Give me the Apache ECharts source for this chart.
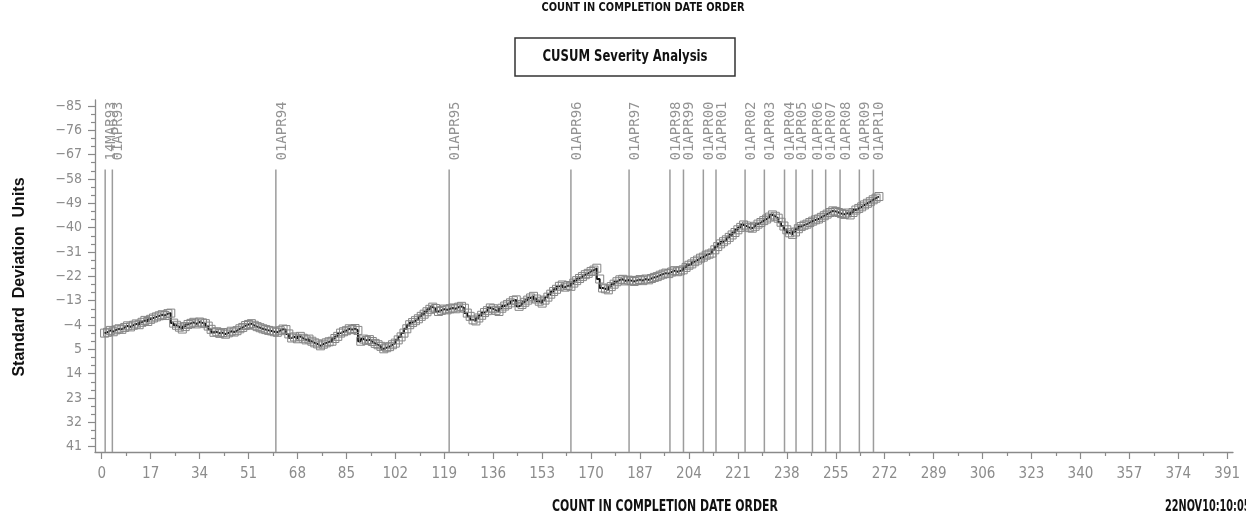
<!DOCTYPE html>
<html>
<head>
<meta charset="utf-8">
<title>CUSUM Severity Analysis</title>
<script src="https://cdn.jsdelivr.net/npm/echarts@6/dist/echarts.min.js"></script>
<style>
  html, body { margin: 0; padding: 0; background: #fff; }
  #chart { width: 1246px; height: 523px; }
</style>
</head>
<body>
<div id="chart"></div>
<script>
// CUSUM value for each completed item, in completion-date order (count 1..270)
const cusumValues = [
  -1.0, -1.3, -2.0, -1.5, -2.2, -2.6, -2.4, -3.1, -3.7, -3.3,
  -3.9, -4.4, -4.1, -5.0, -5.7, -5.3, -6.1, -6.6, -7.0, -7.4,
  -7.8, -7.5, -8.2, -8.4, -4.7, -3.9, -3.2, -2.5, -3.4, -4.2,
  -4.6, -5.0, -4.4, -5.1, -4.8, -4.5, -3.6, -2.4, -1.3, -1.5,
  -0.9, -1.2, -0.6, -1.1, -1.7, -1.4, -1.9, -2.6, -3.1, -3.8,
  -4.2, -4.5, -3.9, -3.4, -3.0, -2.6, -2.3, -2.0, -1.8, -1.5,
  -1.3, -1.9, -2.5, -2.3, -0.7, 0.8, 0.4, 1.1, 0.2, 0.9,
  1.5, 1.2, 2.0, 2.6, 3.0, 3.7, 3.1, 2.6, 2.2, 2.0,
  1.0, 0.2, -1.0, -1.5, -1.9, -2.6, -2.3, -2.7, -2.0, 2.0,
  1.2, 1.7, 1.4, 2.1, 2.8, 3.3, 3.9, 4.8, 4.4, 4.0,
  3.3, 2.7, 1.5, 0.4, -1.0, -2.6, -4.1, -4.9, -5.6, -6.3,
  -7.2, -8.0, -8.9, -9.8, -10.6, -10.1, -9.0, -9.4, -9.9, -9.6,
  -10.0, -10.3, -10.0, -10.6, -10.9, -10.2, -8.4, -7.2, -5.9, -5.5,
  -6.6, -7.6, -8.6, -9.3, -10.3, -10.0, -9.4, -9.0, -10.2, -11.0,
  -11.6, -12.2, -13.0, -13.3, -10.9, -11.6, -12.4, -13.2, -14.0, -14.6,
  -13.6, -12.8, -12.1, -13.2, -14.3, -15.4, -16.4, -17.2, -18.3, -18.8,
  -18.0, -18.6, -18.3, -19.5, -20.4, -21.2, -21.9, -22.6, -23.1, -23.8,
  -24.3, -25.0, -21.0, -17.7, -17.4, -17.0, -18.2, -19.1, -20.0, -20.7,
  -20.9, -20.3, -20.6, -20.4, -20.1, -20.5, -20.8, -20.4, -21.0, -20.7,
  -21.2, -21.6, -21.9, -22.4, -22.8, -23.2, -23.0, -23.6, -24.1, -23.7,
  -24.0, -24.4, -25.3, -26.1, -26.6, -27.4, -28.0, -28.7, -29.1, -29.8,
  -30.2, -30.6, -31.8, -33.0, -34.0, -34.8, -35.5, -36.4, -37.3, -38.2,
  -39.2, -40.1, -41.0, -40.6, -40.0, -39.8, -40.5, -41.3, -41.9, -42.6,
  -43.2, -43.9, -44.7, -44.2, -43.5, -42.0, -40.6, -39.2, -38.1, -37.5,
  -38.4, -39.6, -40.4, -40.9, -41.3, -41.9, -42.4, -42.9, -43.2, -43.8,
  -44.4, -45.0, -45.6, -46.2, -46.0, -45.6, -45.2, -44.9, -45.4, -44.7,
  -45.6, -46.5, -47.1, -47.7, -48.4, -49.0, -49.6, -50.3, -50.9, -51.5
];

// Reference dates and the (fractional) count at which each falls
const refDates  = ['14MAR93', '01APR93', '01APR94', '01APR95', '01APR96', '01APR97',
                   '01APR98', '01APR99', '01APR00', '01APR01', '01APR02', '01APR03',
                   '01APR04', '01APR05', '01APR06', '01APR07', '01APR08', '01APR09', '01APR10'];
const refCounts = [1.2, 3.7, 60.5, 120.7, 163.0, 183.2,
                   197.4, 202.1, 209.0, 213.4, 223.5, 230.2,
                   237.2, 241.2, 246.9, 251.5, 256.5, 263.2, 268.1];

// Axis ticks
const xTickValues  = [0, 17, 34, 51, 68, 85, 102, 119, 136, 153, 170, 187, 204, 221,
                      238, 255, 272, 289, 306, 323, 340, 357, 374, 391];
const xMinorValues = [8.5, 25.5, 42.5, 59.5, 76.5, 93.5, 110.5, 127.5, 144.5, 161.5, 178.5,
                      195.5, 212.5, 229.5, 246.5, 263.5, 280.5, 297.5, 314.5, 331.5, 348.5,
                      365.5, 382.5];
const yTickValues  = [-85, -76, -67, -58, -49, -40, -31, -22, -13, -4, 5, 14, 23, 32, 41];
const yMinorValues = [-82, -79, -73, -70, -64, -61, -55, -52, -46, -43, -37, -34, -28, -25,
                      -19, -16, -10, -7, -1, 2, 8, 11, 17, 20, 26, 29, 35, 38];

const xMin = -2.33, xMax = 393.0;
const yMin = -87.2, yMax = 42.96;
const refLineTop = -61.5;

const tickFont = '"Liberation Sans Narrow", "DejaVu Sans Condensed", "Liberation Sans", sans-serif';
const boldFont = '"Liberation Sans Narrow", "DejaVu Sans Condensed", "Liberation Sans", sans-serif';
const axisGray = '#8a8a8a';
const labelGray = '#8c8c8c';

const points = cusumValues.map((v, i) => [i + 1, v]);

const chart = echarts.init(document.getElementById('chart'), null, { renderer: 'canvas' });

// bold, horizontally condensed caption text
function caption(text, x, y, size, squeeze, align) {
  return {
    type: 'text', x: x, y: y, scaleX: squeeze, scaleY: 1,
    style: { text: text, fill: '#111', fontFamily: boldFont, fontWeight: 'bold',
             fontSize: size, align: align || 'center', verticalAlign: 'middle' }
  };
}

chart.setOption({
  animation: false,
  backgroundColor: '#ffffff',
  grid: { left: 95, right: 13, top: 100, bottom: 71, containLabel: false },
  xAxis: [
    {
      type: 'value', min: xMin, max: xMax, position: 'bottom',
      axisLine: { show: true, onZero: false, lineStyle: { color: axisGray, width: 1.3 } },
      axisTick: { show: true, customValues: xTickValues, length: 7, lineStyle: { color: axisGray, width: 1.2 } },
      axisLabel: {
        customValues: xTickValues, margin: 15, color: labelGray,
        fontFamily: tickFont, fontSize: 15
      },
      splitLine: { show: false }
    },
    {
      type: 'value', min: xMin, max: xMax, position: 'bottom',
      axisLine: { show: false, onZero: false },
      axisTick: { show: true, customValues: xMinorValues, length: 4, lineStyle: { color: axisGray, width: 1.2 } },
      axisLabel: { show: false },
      splitLine: { show: false }
    }
  ],
  yAxis: [
    {
      type: 'value', inverse: true, min: yMin, max: yMax, position: 'left',
      axisLine: { show: true, onZero: false, lineStyle: { color: axisGray, width: 1.3 } },
      axisTick: { show: true, customValues: yTickValues, length: 7, lineStyle: { color: axisGray, width: 1.2 } },
      axisLabel: {
        customValues: yTickValues, margin: 13, color: labelGray,
        fontFamily: tickFont, fontSize: 14,
        formatter: v => String(v).replace('-', '\u2212')
      },
      splitLine: { show: false }
    },
    {
      type: 'value', inverse: true, min: yMin, max: yMax, position: 'left',
      axisLine: { show: false, onZero: false },
      axisTick: { show: true, customValues: yMinorValues, length: 4, lineStyle: { color: axisGray, width: 1.2 } },
      axisLabel: { show: false },
      splitLine: { show: false }
    }
  ],
  graphic: [
    caption('COUNT IN COMPLETION DATE ORDER', 643, 8, 13, 0.84),
    {
      type: 'rect', shape: { x: 515, y: 38, width: 220, height: 38 },
      style: { fill: '#fff', stroke: '#333', lineWidth: 1.5 }
    },
    caption('CUSUM Severity Analysis', 625, 57, 16, 0.81),
    {
      type: 'text', x: 20, y: 277, rotation: Math.PI / 2,
      style: { text: 'Standard  Deviation  Units', fill: '#111', fontFamily: '"Liberation Sans", Arial, sans-serif',
               fontWeight: 'bold', fontSize: 16, align: 'center', verticalAlign: 'middle' }
    },
    caption('COUNT IN COMPLETION DATE ORDER', 665, 507, 15, 0.81),
    caption('22NOV10:10:05', 1165, 507, 15, 0.72, 'left')
  ],
  series: [
    {
      // vertical reference lines at each date, labelled above the line
      type: 'custom',
      xAxisIndex: 0, yAxisIndex: 0,
      clip: false,
      z: 1,
      silent: true,
      data: refCounts.map(c => [c, yMax]),
      renderItem: function (params, api) {
        const x = api.value(0);
        const top = api.coord([x, refLineTop]);
        const bottom = api.coord([x, yMax]);
        return {
          type: 'group',
          children: [
            {
              type: 'line',
              shape: { x1: top[0], y1: top[1], x2: bottom[0], y2: bottom[1] },
              style: { stroke: '#9c9c9c', lineWidth: 1.5 }
            },
            {
              type: 'text',
              x: top[0] - 1, y: top[1] - 9,
              rotation: Math.PI / 2,
              style: {
                text: refDates[params.dataIndex], fill: '#939393',
                fontFamily: '"DejaVu Sans Mono", "Liberation Mono", monospace',
                fontSize: 14, align: 'left', verticalAlign: 'top'
              }
            }
          ]
        };
      }
    },
    {
      type: 'line',
      xAxisIndex: 0, yAxisIndex: 0,
      data: points,
      step: 'start',
      symbol: 'rect',
      symbolSize: 8,
      showAllSymbol: true,
      z: 3,
      lineStyle: { color: '#111111', width: 1.9 },
      itemStyle: { color: 'rgba(0,0,0,0)', borderColor: '#858585', borderWidth: 1 }
    }
  ]
});
</script>
</body>
</html>
